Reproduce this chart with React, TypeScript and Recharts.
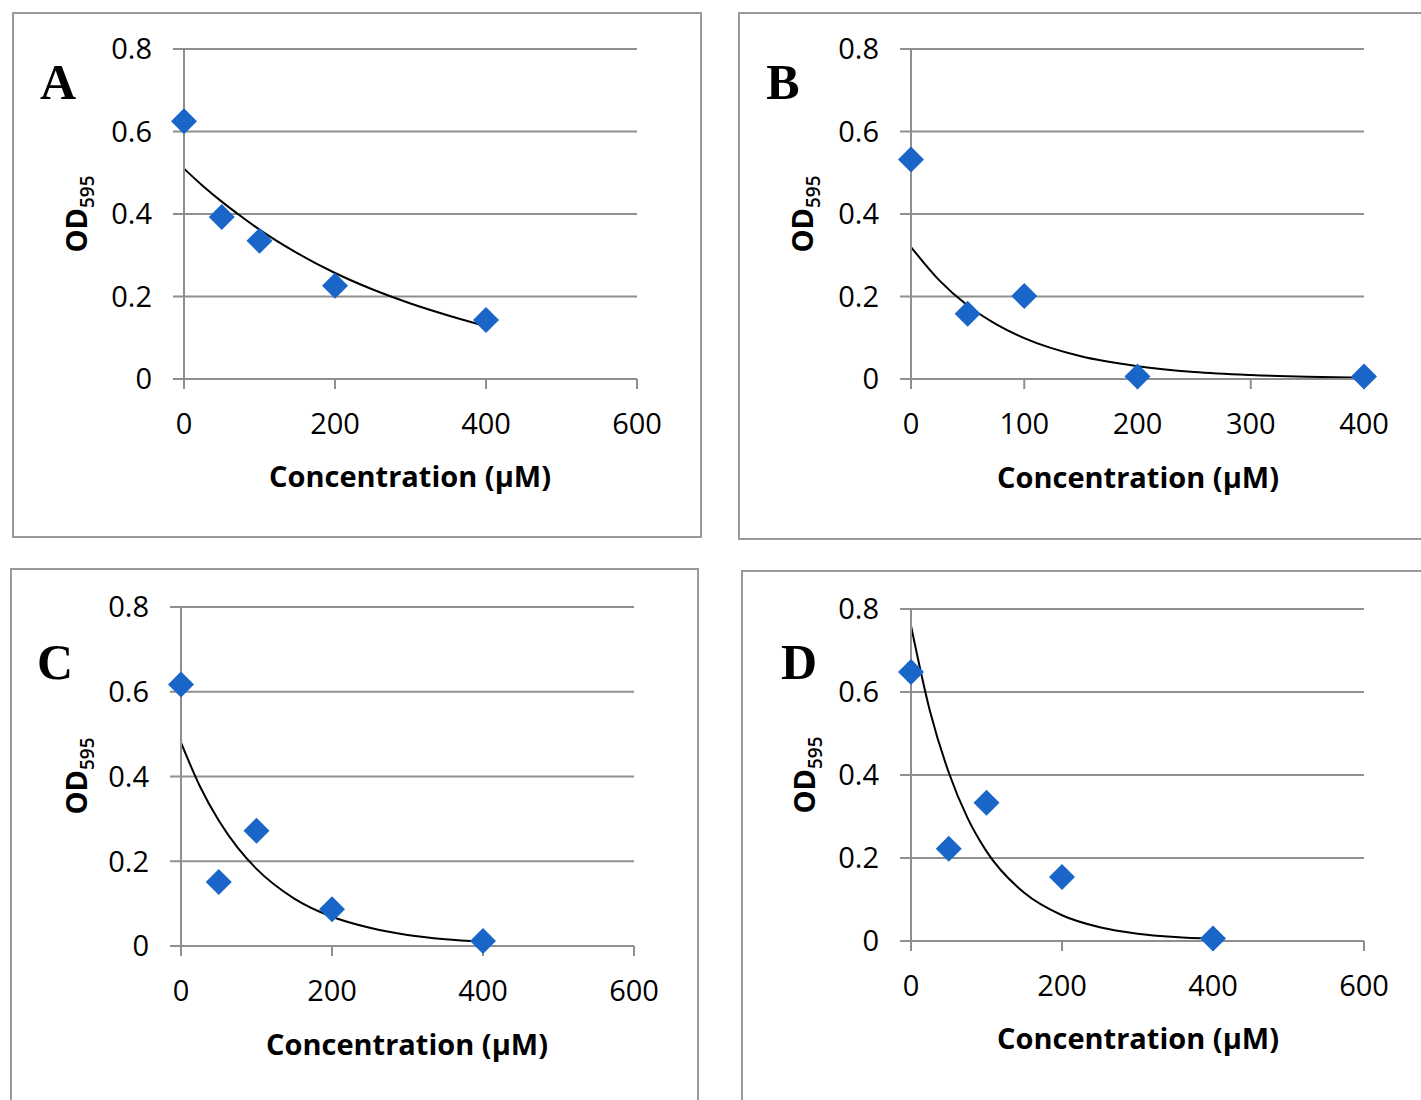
import React from 'react';
import { ComposedChart, Scatter, Line, XAxis, YAxis, CartesianGrid } from 'recharts';

// measured concentrations (µM)
const X_POINTS = [0, 50, 100, 200, 400];

// OD595 readings per panel
const OD_A = [0.625, 0.393, 0.335, 0.226, 0.143];
const OD_B = [0.532, 0.158, 0.201, 0.006, 0.006];
const OD_C = [0.617, 0.151, 0.272, 0.087, 0.012];
const OD_D = [0.648, 0.222, 0.333, 0.154, 0.006];

// exponential trendlines
const TREND_X = [0, 25, 50, 75, 100, 150, 200, 250, 300, 350, 400];
const TREND_A = [0.51, 0.468, 0.43, 0.395, 0.362, 0.305, 0.257, 0.217, 0.183, 0.154, 0.128];
const TREND_B = [0.32, 0.239, 0.178, 0.133, 0.099, 0.055, 0.031, 0.017, 0.0096, 0.0053, 0.003];
const TREND_C = [0.48, 0.377, 0.296, 0.232, 0.182, 0.112, 0.069, 0.043, 0.026, 0.016, 0.01];
const TREND_D = [0.76, 0.555, 0.406, 0.296, 0.216, 0.116, 0.062, 0.033, 0.0176, 0.0094, 0.005];

const X_TICKS_600 = [0, 200, 400, 600];
const X_TICKS_400 = [0, 100, 200, 300, 400];
const Y_TICKS = [0, 0.2, 0.4, 0.6, 0.8];

const PANEL_LABELS = ['A', 'B', 'C', 'D'];
const X_TITLE = 'Concentration (µM)';

const GRID = '#8f8f8f';
const MARKER = '#1a66c8';
const SANS = '"Open Sans", sans-serif';

const toPoints = (ys: number[]) => X_POINTS.map((x, i) => ({ x, y: ys[i] }));
const toTrend = (ys: number[]) => TREND_X.map((x, i) => ({ x, y: ys[i] }));

const layouts = [
  { box: { l: 12, t: 12, r: 702, b: 538 }, plot: { l: 184, t: 49, r: 637, b: 379 }, letter: [58, 82], od: [79, 214], title: [410, 475] },
  { box: { l: 738, t: 12, r: 1440, b: 540 }, plot: { l: 911, t: 49, r: 1364, b: 379 }, letter: [783, 82], od: [805, 214], title: [1138, 476] },
  { box: { l: 10, t: 568, r: 699, b: 1120 }, plot: { l: 181, t: 607, r: 634, b: 946 }, letter: [55, 662], od: [79, 776], title: [407, 1043] },
  { box: { l: 741, t: 570, r: 1440, b: 1120 }, plot: { l: 911, t: 609, r: 1364, b: 941 }, letter: [799, 662], od: [807, 775], title: [1138, 1037] },
];

const panels = [
  { points: toPoints(OD_A), trend: toTrend(TREND_A), xTicks: X_TICKS_600 },
  { points: toPoints(OD_B), trend: toTrend(TREND_B), xTicks: X_TICKS_400 },
  { points: toPoints(OD_C), trend: toTrend(TREND_C), xTicks: X_TICKS_600 },
  { points: toPoints(OD_D), trend: toTrend(TREND_D), xTicks: X_TICKS_600 },
];

const Diamond = (props: any) => {
  const { cx, cy } = props;
  if (cx == null || cy == null) return null;
  const h = 13;
  return (
    <polygon
      points={`${cx},${cy - h} ${cx + h},${cy} ${cx},${cy + h} ${cx - h},${cy}`}
      fill={MARKER}
    />
  );
};

const centered = (x: number, y: number, extra: React.CSSProperties = {}): React.CSSProperties => ({
  position: 'absolute',
  left: x,
  top: y,
  transform: 'translate(-50%, -50%)',
  whiteSpace: 'nowrap',
  lineHeight: 1,
  ...extra,
});

const Panel = ({ idx }: { idx: number }) => {
  const lay = layouts[idx];
  const p = panels[idx];
  const { box, plot } = lay;
  const pw = plot.r - plot.l;
  const ph = plot.b - plot.t;
  const xMax = p.xTicks[p.xTicks.length - 1];
  const tickStyle = { fill: '#000', fontSize: 29, fontFamily: SANS };

  return (
    <>
      <div
        style={{
          position: 'absolute',
          left: box.l,
          top: box.t,
          width: box.r - box.l,
          height: box.b - box.t,
          border: '2px solid #9a9a9a',
          boxSizing: 'border-box',
        }}
      />
      <div style={{ position: 'absolute', left: plot.l - 80, top: plot.t - 20 }}>
        <ComposedChart
          width={pw + 140}
          height={ph + 100}
          margin={{ top: 20, right: 60, left: 20, bottom: 20 }}
        >
          <CartesianGrid vertical={false} stroke={GRID} strokeWidth={2} />
          <XAxis
            type="number"
            dataKey="x"
            domain={[0, xMax]}
            ticks={p.xTicks}
            height={60}
            tick={tickStyle}
            tickSize={10}
            tickMargin={24}
            stroke={GRID}
            strokeWidth={2}
            interval={0}
          />
          <YAxis
            type="number"
            dataKey="y"
            domain={[0, 0.8]}
            ticks={Y_TICKS}
            width={60}
            tick={tickStyle}
            tickSize={11}
            tickMargin={21}
            stroke={GRID}
            strokeWidth={2}
            interval={0}
          />
          <Line
            data={p.trend}
            dataKey="y"
            type="monotone"
            stroke="#000"
            strokeWidth={2}
            dot={false}
            isAnimationActive={false}
          />
          <Scatter data={p.points} dataKey="y" shape={Diamond} isAnimationActive={false} />
        </ComposedChart>
      </div>
      <div
        style={centered(lay.letter[0], lay.letter[1], {
          fontFamily: '"Liberation Serif", serif',
          fontWeight: 700,
          fontSize: 50,
        })}
      >
        {PANEL_LABELS[idx]}
      </div>
      <div
        style={centered(lay.od[0], lay.od[1], {
          fontFamily: SANS,
          fontWeight: 700,
          fontSize: 29,
          transform: 'translate(-50%, -50%) rotate(-90deg)',
        })}
      >
        OD<sub style={{ fontSize: 19, fontWeight: 600 }}>595</sub>
      </div>
      <div style={centered(lay.title[0], lay.title[1], { fontFamily: SANS, fontWeight: 700, fontSize: 29 })}>
        {X_TITLE}
      </div>
    </>
  );
};

export default function App() {
  return (
    <div
      style={{
        position: 'absolute',
        left: 0,
        top: 0,
        width: 1421,
        height: 1100,
        overflow: 'hidden',
        background: '#fff',
      }}
    >
      {PANEL_LABELS.map((_, i) => (
        <Panel key={i} idx={i} />
      ))}
    </div>
  );
}
